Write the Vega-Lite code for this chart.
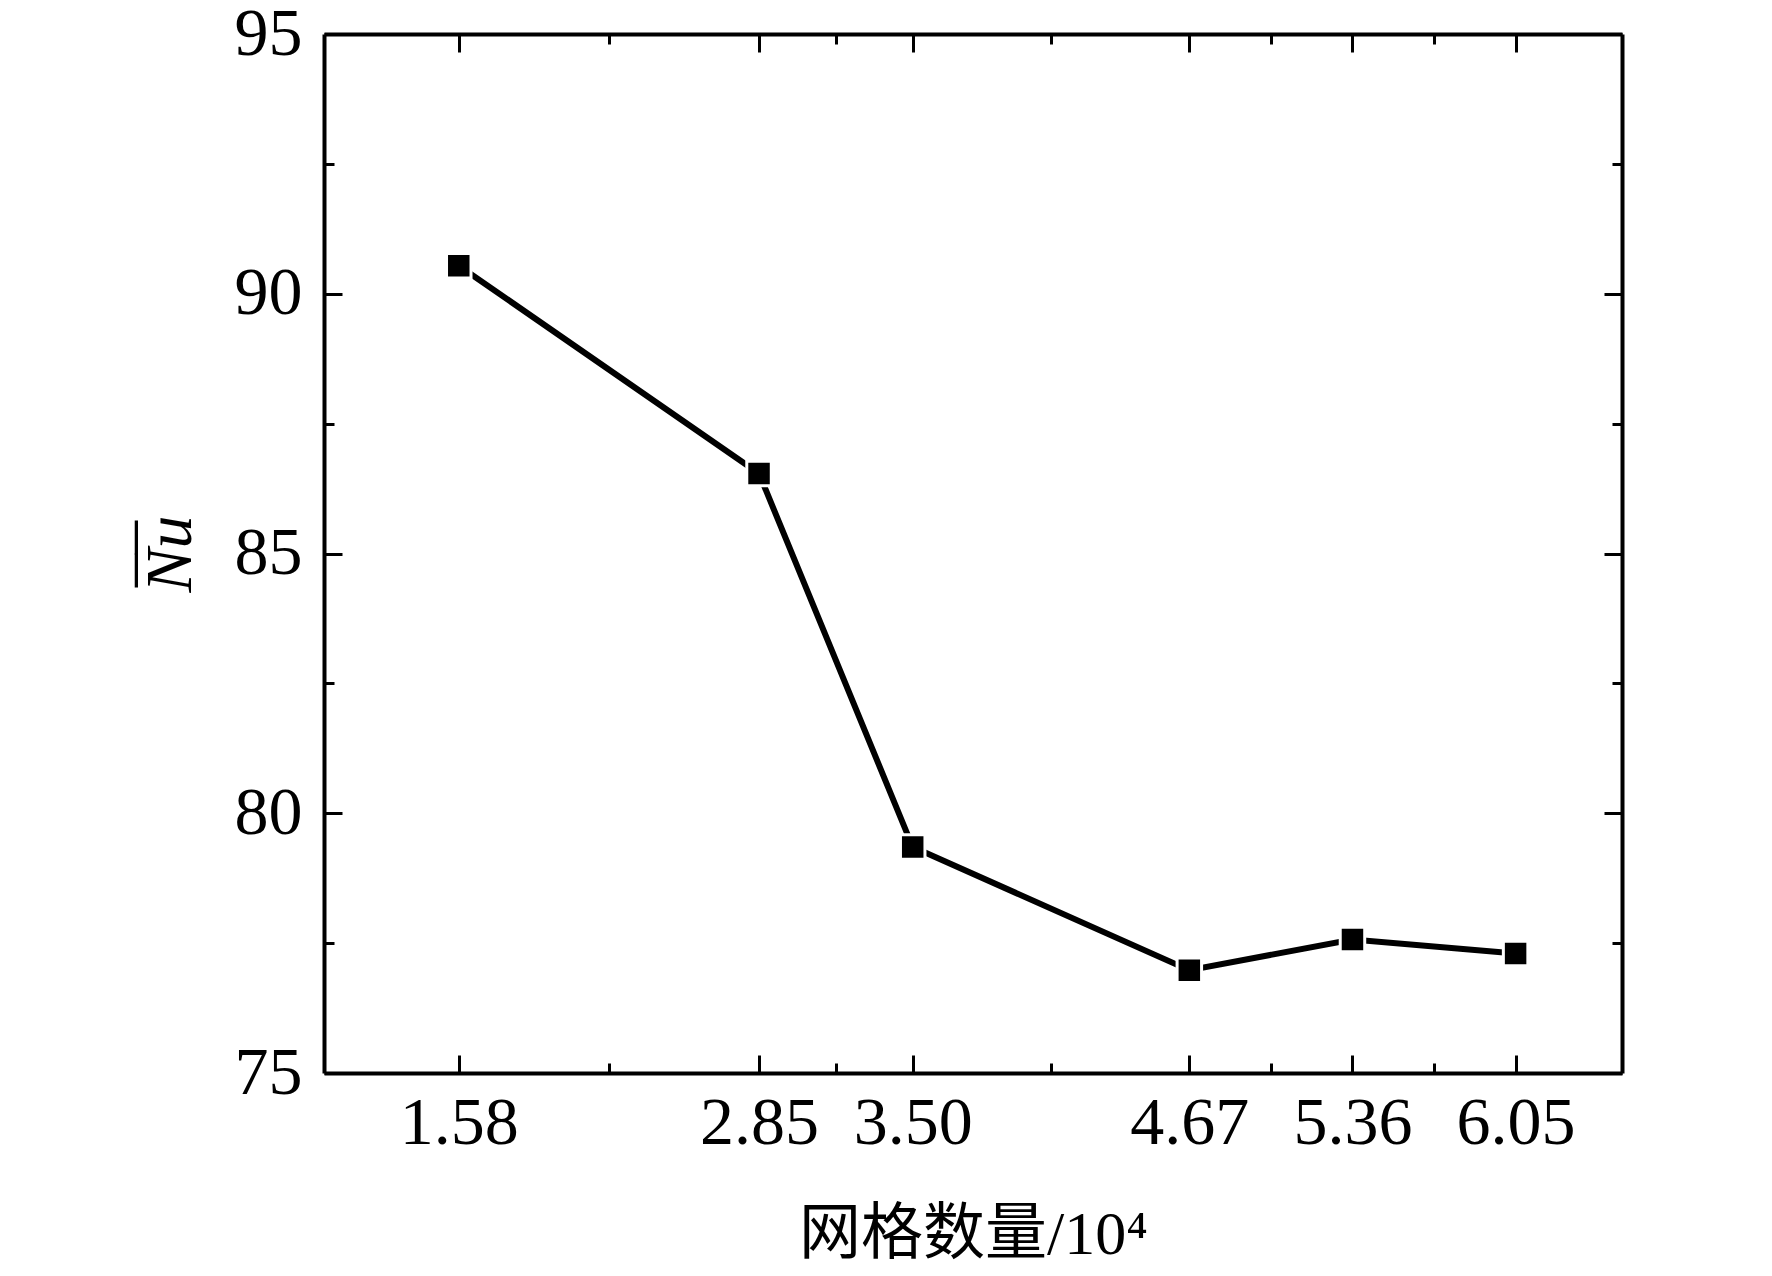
{
  "$schema": "https://vega.github.io/schema/vega-lite/v6.json",
  "width": 1298,
  "height": 1039,
  "autosize": "none",
  "padding": {"left": 324, "top": 34, "right": 150, "bottom": 203},
  "background": "white",
  "data": {
    "values": [
      {"grid": 1.58, "nu": 90.54},
      {"grid": 2.85, "nu": 86.54},
      {"grid": 3.5, "nu": 79.35},
      {"grid": 4.67, "nu": 76.98},
      {"grid": 5.36, "nu": 77.57},
      {"grid": 6.05, "nu": 77.3}
    ]
  },
  "layer": [
    {
      "mark": {"type": "line", "color": "black", "strokeWidth": 6},
      "encoding": {
        "x": {
          "field": "grid",
          "type": "quantitative",
          "scale": {"domain": [1.01, 6.5], "nice": false, "zero": false},
          "axis": {
            "orient": "bottom",
            "values": [1.58, 2.85, 3.5, 4.67, 5.36, 6.05],
            "format": ".2f",
            "tickSize": -18,
            "labelPadding": 34,
            "title": "网格数量/10⁴",
            "titleFontSize": 62,
            "titleFontWeight": "normal",
            "titleBaseline": "alphabetic",
            "titleY": 180
          }
        },
        "y": {
          "field": "nu",
          "type": "quantitative",
          "scale": {"domain": [75, 95], "nice": false, "zero": false},
          "axis": {
            "orient": "left",
            "values": [75, 80, 85, 90, 95],
            "tickSize": -18,
            "labelPadding": 40,
            "title": ["__", "Nu"],
            "titleFontSize": 66,
            "titleLineHeight": 61,
            "titleFontStyle": "italic",
            "titleFontWeight": "normal",
            "titleAngle": 270,
            "titleBaseline": "alphabetic",
            "titleX": -195
          }
        }
      }
    },
    {
      "mark": {"type": "point", "shape": "square", "filled": true, "size": 600, "fill": "black", "stroke": "white", "strokeWidth": 3, "opacity": 1},
      "encoding": {
        "x": {
          "field": "grid",
          "type": "quantitative",
          "axis": {"orient": "bottom", "values": [2.215, 3.175, 4.085, 5.015, 5.705], "labels": false, "domain": false, "tickSize": -10, "title": null}
        },
        "y": {
          "field": "nu",
          "type": "quantitative",
          "axis": {"orient": "left", "values": [77.5, 82.5, 87.5, 92.5], "labels": false, "domain": false, "tickSize": -10, "title": null}
        }
      }
    },
    {
      "mark": {"type": "point", "opacity": 0},
      "encoding": {
        "x": {
          "field": "grid",
          "type": "quantitative",
          "axis": {"orient": "top", "values": [1.58, 2.85, 3.5, 4.67, 5.36, 6.05], "labels": false, "tickSize": -18, "title": null}
        },
        "y": {
          "field": "nu",
          "type": "quantitative",
          "axis": {"orient": "right", "values": [75, 80, 85, 90, 95], "labels": false, "tickSize": -18, "title": null}
        }
      }
    },
    {
      "mark": {"type": "point", "opacity": 0},
      "encoding": {
        "x": {
          "field": "grid",
          "type": "quantitative",
          "axis": {"orient": "top", "values": [2.215, 3.175, 4.085, 5.015, 5.705], "labels": false, "domain": false, "tickSize": -10, "title": null}
        },
        "y": {
          "field": "nu",
          "type": "quantitative",
          "axis": {"orient": "right", "values": [77.5, 82.5, 87.5, 92.5], "labels": false, "domain": false, "tickSize": -10, "title": null}
        }
      }
    }
  ],
  "config": {
    "view": {"stroke": null},
    "font": "Liberation Serif",
    "axis": {
      "grid": false,
      "domainColor": "black",
      "domainWidth": 4,
      "tickColor": "black",
      "tickWidth": 3,
      "labelFont": "Liberation Serif",
      "labelFontSize": 68,
      "labelColor": "black",
      "labelFlush": false,
      "labelOverlap": false,
      "titleFont": "Liberation Serif, Noto Sans CJK SC",
      "titleColor": "black"
    }
  }
}
